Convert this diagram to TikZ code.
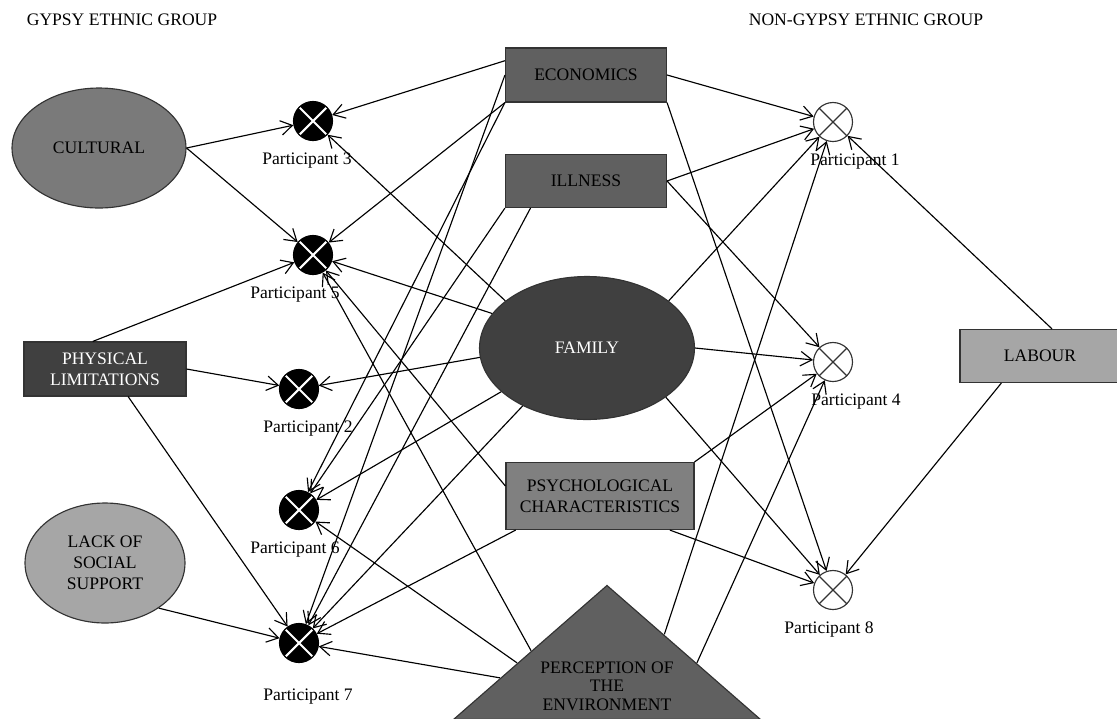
\documentclass[tikz,border=0pt]{standalone}
\usepackage{fontspec}
\setmainfont{Liberation Serif}
\usetikzlibrary{shapes,arrows,positioning,calc,arrows.meta}

\definecolor{cultGray}{RGB}{122,122,122}
\definecolor{darkGray}{RGB}{64,64,64}
\definecolor{midGray}{RGB}{96,96,96}
\definecolor{psyGray}{RGB}{128,128,128}
\definecolor{lightGray}{RGB}{166,166,166}

\begin{document}
\begin{tikzpicture}[x=0.02cm, y=-0.02cm, line width=0.65pt, >={Straight Barb[length=2.3mm,width=2.9mm]}]
    \tikzstyle{box} = [rectangle, draw=black!80, inner sep=0pt, align=center]
    \tikzstyle{oval} = [ellipse, draw=black!80, inner sep=0pt, align=center]
    \tikzstyle{gypsy} = [circle, draw=black, fill=black, minimum size=0.78cm, inner sep=0pt, path picture={\draw [white, line width=1.2pt] (path picture bounding box.north west) -- (path picture bounding box.south east) (path picture bounding box.south west) -- (path picture bounding box.north east);}]
    \tikzstyle{nongypsy} = [circle, draw=black!80, fill=white, minimum size=0.78cm, inner sep=0pt, path picture={\draw [black!80, line width=0.65pt] (path picture bounding box.north west) -- (path picture bounding box.south east) (path picture bounding box.south west) -- (path picture bounding box.north east);}]
    \useasboundingbox (0,0) rectangle (1117,718);

    \node (gypsyTitle) at (122,20) {GYPSY ETHNIC GROUP};
    \node (nonGypsyTitle) at (866,20) {NON-GYPSY ETHNIC GROUP};

    \node (cultural) [oval, fill=cultGray, minimum width=3.48cm, minimum height=2.4cm] at (99,148) {CULTURAL};
    \node (physical) [box, fill=darkGray, text=white, minimum width=3.24cm, minimum height=1.08cm] at (105,369) {PHYSICAL\\LIMITATIONS};
    \node (lack) [oval, fill=lightGray, minimum width=3.2cm, minimum height=2.4cm] at (105,563) {LACK OF\\SOCIAL\\SUPPORT};

    \node (econ) [box, fill=midGray, minimum width=3.22cm, minimum height=1.08cm] at (586,75) {ECONOMICS};
    \node (illness) [box, fill=midGray, minimum width=3.22cm, minimum height=1.06cm] at (586,181) {ILLNESS};
    \node (family) [oval, fill=darkGray, text=white, minimum width=4.3cm, minimum height=2.86cm] at (587,348) {FAMILY};
    \node (psych) [box, fill=psyGray, minimum width=3.76cm, minimum height=1.34cm] at (600,496) {PSYCHOLOGICAL\\CHARACTERISTICS};
    \node (perc) [isosceles triangle, isosceles triangle stretches, shape border rotate=90, draw=black!80, fill=midGray, minimum width=6.14cm, minimum height=2.68cm, inner sep=0pt, anchor=apex] at (607,584) {};
    \node (percText) [align=center, font=\fontsize{10}{10.5}\selectfont] at (607,686) {PERCEPTION OF\\THE\\ENVIRONMENT};
    \node (labour) [box, fill=lightGray, minimum width=3.2cm, minimum height=1.06cm] at (1040,356) {LABOUR};

    \node (p3) [gypsy] at (313,121) {};
    \node (p5) [gypsy] at (313,255) {};
    \node (p2) [gypsy] at (299,389) {};
    \node (p6) [gypsy] at (299,510) {};
    \node (p7) [gypsy] at (299,643) {};
    \node (p1) [nongypsy] at (833,122) {};
    \node (p4) [nongypsy] at (833,362) {};
    \node (p8) [nongypsy] at (833,590) {};

    \node (p3lbl) [below=0.1cm of p3, xshift=-0.12cm] {Participant 3};
    \node (p5lbl) [below=0.1cm of p5, xshift=-0.36cm] {Participant 5};
    \node (p2lbl) [below=0.1cm of p2, xshift=0.18cm] {Participant 2};
    \node (p6lbl) [below=0.1cm of p6, xshift=-0.08cm] {Participant 6};
    \node (p7lbl) [below=0.38cm of p7, xshift=0.18cm] {Participant 7};
    \node (p1lbl) [below=0.1cm of p1, xshift=0.44cm] {Participant 1};
    \node (p4lbl) [below=0.1cm of p4, xshift=0.46cm] {Participant 4};
    \node (p8lbl) [below=0.1cm of p8, xshift=-0.08cm] {Participant 8};

    \draw [->] (cultural.east) -- (p3);
    \draw [->] (cultural.east) -- (p5);
    \draw [->] (physical.114) -- (p5);
    \draw [->] (physical.east) -- (p2);
    \draw [->] (physical.-50) -- (p7);
    \draw [->] (lack.-40) -- (p7);
    \draw [->] (econ.170) -- (p3);
    \draw [->] (econ.south west) -- (p5);
    \draw [->] (econ.south west) -- (p6);
    \draw [->] (econ.west) -- (p7);
    \draw [->] (illness.south west) -- (p6);
    \draw [->] (illness.206) -- (p7);
    \draw [->] (family.150) -- (p3);
    \draw [->] (family.160) -- (p5);
    \draw [->] (family.185) -- (p2);
    \draw [->] (family.207) -- (p6);
    \draw [->] (family.222) -- (p7);
    \draw [->] (psych.174) -- (p5);
    \draw [->] (psych.202) -- (p7);
    \draw [->] ($(perc.apex)!0.49!(perc.left corner)$) -- (p5);
    \draw [->] ($(perc.apex)!0.58!(perc.left corner)$) -- (p6);
    \draw [->] ($(perc.apex)!0.69!(perc.left corner)$) -- (p7);

    \draw [->] (econ.east) -- (p1);
    \draw [->] (econ.south east) -- (p8);
    \draw [->] (illness.east) -- (p1);
    \draw [->] (illness.east) -- (p4);
    \draw [->] (family.30) -- (p1);
    \draw [->] (family.east) -- (p4);
    \draw [->] (family.-32) -- (p8);
    \draw [->] (psych.north east) -- (p4);
    \draw [->] (psych.-26) -- (p8);
    \draw [->] ($(perc.apex)!0.37!(perc.right corner)$) -- (p1);
    \draw [->] ($(perc.apex)!0.58!(perc.right corner)$) -- (p4);
    \draw [->] (labour.66) -- (p1);
    \draw [->] (labour.215) -- (p8);

\end{tikzpicture}
\end{document}
